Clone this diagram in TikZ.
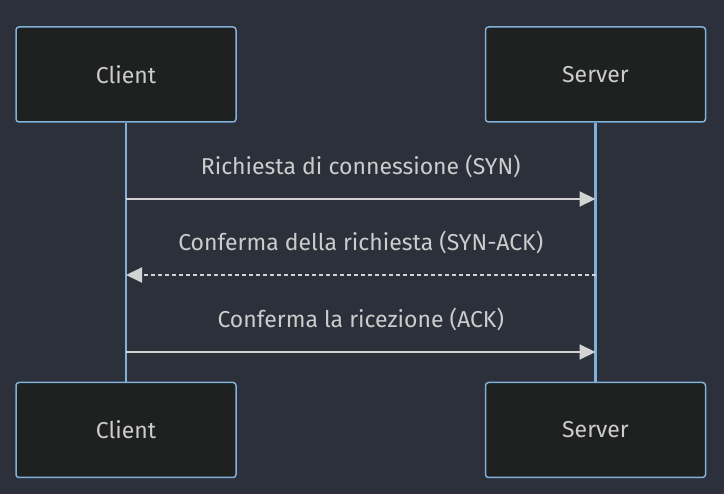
\documentclass[tikz,border=0pt]{standalone}
\usepackage{fontspec}
\setmainfont{Fira Sans}
\usetikzlibrary{positioning, arrows.meta}

\definecolor{bgdark}{HTML}{2B303B}
\definecolor{boxfill}{HTML}{1F2020}
\definecolor{boxline}{HTML}{81B1DB}
\definecolor{txtgray}{HTML}{CCCCCC}
\definecolor{msggray}{HTML}{D3D3D3}

\begin{document}
\begin{tikzpicture}[
        x=1pt, y=-1pt,
        actor/.style={draw=boxline, fill=boxfill, line width=1.5pt, rounded corners=3pt,
            minimum width=220pt, minimum height=95pt, text=txtgray, font=\fontsize{23}{27}\selectfont},
        life/.style={draw=boxline, line width=2.8pt},
        msg/.style={draw=msggray, line width=2pt, -{Triangle[length=16pt, width=15pt]}},
        reply/.style={msg, dash pattern=on 4pt off 3pt},
        lbl/.style={text=txtgray, font=\fontsize{23}{27}\selectfont, yshift=33pt},
        node distance=249pt]

        % Fond
        \fill[bgdark] (0,0) rectangle (724,494);
        \useasboundingbox (0,0) rectangle (724,494);

        % Participants
        \node (clientTop) [actor] at (126,74.5) {Client};
        \node (serverTop) [actor, right=248pt of clientTop] {Server};
        \node (clientBot) [actor, below=259pt of clientTop] {Client};
        \node (serverBot) [actor, below=259pt of serverTop] {Server};

        % Lignes de vie
        \draw[life] (clientTop) -- (clientBot);
        \draw[life] (serverTop) -- (serverBot);

        % Points des messages
        \coordinate (synA) at (clientTop.south |- 0,199);
        \coordinate (synB) at (serverTop.south |- 0,199);
        \coordinate (ackA) at (clientTop.south |- 0,275);
        \coordinate (ackB) at (serverTop.south |- 0,275);
        \coordinate (finA) at (clientTop.south |- 0,352);
        \coordinate (finB) at (serverTop.south |- 0,352);

        % Messages
        \draw[msg] (synA) -- node[lbl] {Richiesta di connessione (SYN)} (synB);
        \draw[reply] (ackB) -- node[lbl] {Conferma della richiesta (SYN-ACK)} (ackA);
        \draw[msg] (finA) -- node[lbl] {Conferma la ricezione (ACK)} (finB);

    \end{tikzpicture}
\end{document}
